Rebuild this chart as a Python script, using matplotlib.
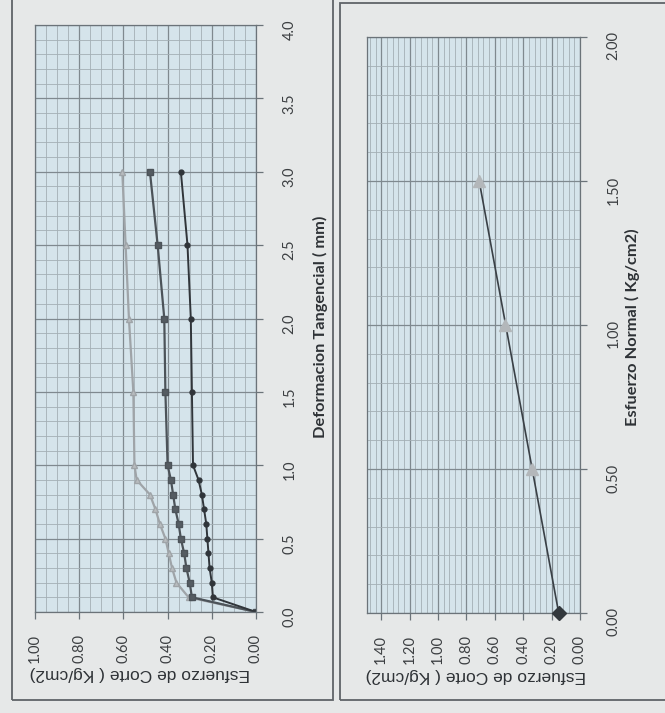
import matplotlib
matplotlib.use("Agg")
import matplotlib.pyplot as plt
from matplotlib.ticker import MultipleLocator, FormatStrFormatter
from matplotlib.patches import Rectangle

# ---- datos: curva esfuerzo-deformacion ----
deformacion = [0.0, 0.1, 0.2, 0.3, 0.4, 0.5, 0.6, 0.7, 0.8, 0.9, 1.0, 1.5, 2.0, 2.5, 3.0]
corte_1 = [0.0, 0.195, 0.20, 0.21, 0.215, 0.22, 0.225, 0.235, 0.245, 0.26, 0.285, 0.29, 0.295, 0.31, 0.34]
corte_2 = [0.0, 0.29, 0.30, 0.315, 0.325, 0.34, 0.35, 0.365, 0.375, 0.385, 0.40, 0.41, 0.415, 0.445, 0.48]
corte_3 = [0.0, 0.305, 0.36, 0.38, 0.395, 0.41, 0.435, 0.455, 0.48, 0.54, 0.55, 0.555, 0.575, 0.59, 0.605]

# ---- datos: envolvente de falla ----
normal_ensayo = [0.5, 1.0, 1.5]
corte_ensayo = [0.34, 0.53, 0.71]
normal_recta = [0.0, 1.5]
corte_recta = [0.15, 0.71]
cohesion_x = [0.0]
cohesion_y = [0.15]

W, H = 665, 713
fig = plt.figure(figsize=(W / 100, H / 100), dpi=100)
fig.patch.set_facecolor('#e6e8e8')

GRID_MAJ = '#7f898f'
GRID_MIN = '#a3afb5'
AX_BG = '#d5e4eb'
TICK_FONT = 'Lato'
LBL_FONT = 'Liberation Sans'


def px_box(x0, y0, x1, y1):
    # caja en pixeles (origen arriba-izquierda) -> fraccion de figura
    return [x0 / W, 1 - y1 / H, (x1 - x0) / W, (y1 - y0) / H]


def estilo(ax, xmaj, xmin, ymaj, ymin, xfmt, yfmt):
    ax.set_facecolor(AX_BG)
    ax.xaxis.set_major_locator(MultipleLocator(xmaj))
    ax.xaxis.set_minor_locator(MultipleLocator(xmin))
    ax.yaxis.set_major_locator(MultipleLocator(ymaj))
    ax.yaxis.set_minor_locator(MultipleLocator(ymin))
    ax.xaxis.set_major_formatter(FormatStrFormatter(xfmt))
    ax.yaxis.set_major_formatter(FormatStrFormatter(yfmt))
    ax.grid(which='minor', color=GRID_MIN, lw=0.6)
    ax.grid(which='major', color=GRID_MAJ, lw=0.9)
    ax.set_axisbelow(True)
    ax.yaxis.tick_right()
    ax.tick_params(which='major', length=5, width=0.9, color='#6b7379',
                   labelsize=10.5, labelcolor='#3c3f42')
    ax.tick_params(which='minor', length=0)
    ax.tick_params(axis='x', labelrotation=90, pad=11)
    ax.tick_params(axis='y', labelrotation=90, pad=14)
    for lab in ax.get_xticklabels() + ax.get_yticklabels():
        lab.set_fontfamily(TICK_FONT)
    for s in ax.spines.values():
        s.set_color('#6b7379')
        s.set_linewidth(0.9)


# ---- grafico 1: esfuerzo de corte vs deformacion tangencial ----
ax1 = fig.add_axes(px_box(35, 25, 256, 612))
ax1.plot(corte_3, deformacion, color='#9fa4a8', lw=1.6, marker='^', ms=4,
         mfc='#b8bcbf', mec='#9fa4a8')
ax1.plot(corte_2, deformacion, color='#4c5359', lw=1.6, marker='s', ms=5,
         mfc='#555c62', mec='#4c5359')
ax1.plot(corte_1, deformacion, color='#30353a', lw=1.4, marker='o', ms=3.5,
         mfc='#30353a', mec='#30353a')
ax1.set_xlim(1.0, 0.0)
ax1.set_ylim(0, 4.0)
estilo(ax1, 0.2, 0.05, 0.5, 0.1, '%.2f', '%.1f')

fig.text(140 / W, 1 - 674 / H, 'Esfuerzo de Corte ( Kg/cm2)', rotation=180,
         ha='center', va='center', fontsize=12.5, family=LBL_FONT, color='#2e3236')
fig.text(320 / W, 1 - 327 / H, 'Deformacion Tangencial ( mm)', rotation=90,
         ha='center', va='center', fontsize=11.8, family=TICK_FONT,
         fontweight='bold', color='#2e3236')

# ---- grafico 2: envolvente de falla ----
ax2 = fig.add_axes(px_box(367, 37, 580, 613))
ax2.plot(corte_recta, normal_recta, color='#3a4046', lw=1.2)
ax2.plot(corte_ensayo, normal_ensayo, ls='none', marker='^', ms=8,
         mfc='#b3b7ba', mec='#b3b7ba')
ax2.plot(cohesion_y, cohesion_x, ls='none', marker='D', ms=7,
         mfc='#33383d', mec='#33383d', clip_on=False, zorder=5)
ax2.set_xlim(1.5, 0.0)
ax2.set_ylim(0, 2.0)
estilo(ax2, 0.2, 0.04, 0.5, 0.1, '%.2f', '%.2f')

fig.text(476 / W, 1 - 676 / H, 'Esfuerzo de Corte ( Kg/cm2)', rotation=180,
         ha='center', va='center', fontsize=12.5, family=LBL_FONT, color='#2e3236')
fig.text(632 / W, 1 - 327 / H, 'Esfuerzo Normal ( Kg/cm2)', rotation=90,
         ha='center', va='center', fontsize=11.8, family=TICK_FONT,
         fontweight='bold', color='#2e3236')

# marcos de cada grafico
for x0, y0, x1, y1 in [(12, -5, 333, 700), (340, 3, 670, 700)]:
    fig.patches.append(Rectangle((x0 / W, 1 - y1 / H), (x1 - x0) / W, (y1 - y0) / H,
                                 transform=fig.transFigure, fill=False,
                                 ec='#5f6468', lw=1.3))

fig.savefig('out.png', dpi=100, facecolor=fig.get_facecolor())
